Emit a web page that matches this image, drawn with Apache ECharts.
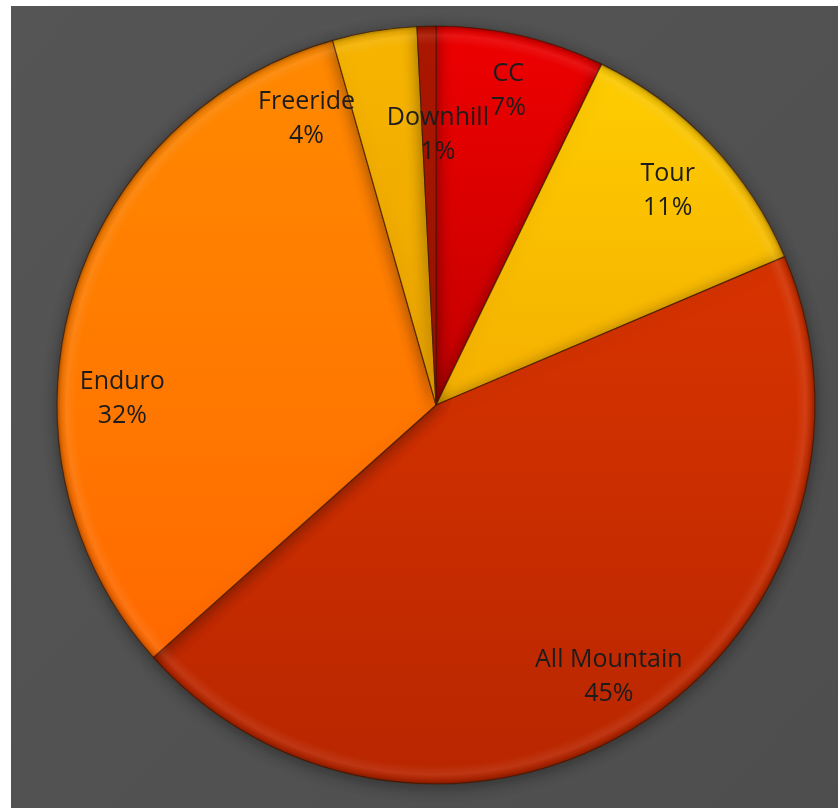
<!DOCTYPE html>
<html>
<head>
<meta charset="utf-8">
<script src="https://cdn.jsdelivr.net/npm/echarts@6/dist/echarts.min.js"></script>
<style>
html,body{margin:0;padding:0;background:#fff;}
#chart{width:838px;height:809px;}
</style>
</head>
<body>
<div id="chart"></div>
<script>
const categories = ['CC', 'Tour', 'All Mountain', 'Enduro', 'Freeride', 'Downhill'];
const shares = [7.2, 11.4, 44.8, 32.2, 3.6, 0.8];

// styling
const CX = 436, CY = 405, R = 379;
const sliceStops = [
  ['#ee0000', '#c40000', '#9a0000'],
  ['#ffd000', '#f5b000', '#e09000'],
  ['#e23800', '#d03000', '#b82600'],
  ['#ff8a00', '#ff7800', '#ff6000'],
  ['#f7b500', '#eba400', '#d89000'],
  ['#b01800', '#981200', '#800c00']
];
const labelShift = {1: [-2, 8], 3: [-4, 84], 4: [-77, 32], 5: [10, 52]};

function grad(stops) {
  return {
    type: 'linear', global: true,
    x: CX, y: CY - R, x2: CX, y2: CY + R,
    colorStops: [
      {offset: 0, color: stops[0]},
      {offset: 0.5, color: stops[1]},
      {offset: 1, color: stops[2]}
    ]
  };
}

const mainData = categories.map((c, i) => ({
  name: c, value: shares[i],
  itemStyle: {color: grad(sliceStops[i])}
}));
const labelData = categories.map((c, i) => ({name: c, value: shares[i]}));

const chart = echarts.init(document.getElementById('chart'), null, {renderer: 'canvas'});
chart.setOption({
  animation: false,
  backgroundColor: '#ffffff',
  graphic: [{
    type: 'rect', z: -10,
    shape: {x: 11, y: 6, width: 827, height: 802},
    style: {
      fill: {
        type: 'linear', x: 0, y: 0, x2: 1, y2: 1,
        colorStops: [{offset: 0, color: '#555555'}, {offset: 1, color: '#4e4e4e'}]
      }
    }
  }],
  series: [
    {
      type: 'pie', center: [CX, CY], radius: [0, R],
      startAngle: 90, clockwise: true, silent: true,
      label: {show: false}, labelLine: {show: false},
      itemStyle: {
        borderColor: 'rgba(70,25,0,0.7)', borderWidth: 1.2,
        shadowBlur: 16, shadowColor: 'rgba(0,0,0,0.4)', shadowOffsetY: 3
      },
      data: mainData
    },
    {
      type: 'pie', center: [CX, CY], radius: [R - 25, R],
      startAngle: 90, silent: true, z: 3,
      label: {show: false}, labelLine: {show: false},
      itemStyle: {
        borderWidth: 0,
        color: {
          type: 'radial', global: true, x: CX, y: CY, r: R,
          colorStops: [
            {offset: 0, color: 'rgba(255,255,255,0)'},
            {offset: 0.95, color: 'rgba(255,255,255,0)'},
            {offset: 0.975, color: 'rgba(255,255,255,0.08)'},
            {offset: 0.99, color: 'rgba(0,0,0,0.08)'},
            {offset: 1, color: 'rgba(0,0,0,0.3)'}
          ]
        }
      },
      data: [{name: 'rim', value: 1}]
    },
    {
      type: 'pie', center: [CX, CY], radius: [260, R],
      startAngle: 90, clockwise: true, silent: true, z: 5,
      itemStyle: {color: 'rgba(0,0,0,0)', borderWidth: 0},
      labelLine: {show: false},
      label: {
        show: true, position: 'inside',
        fontFamily: '"Open Sans", Lato, sans-serif',
        fontSize: 25, lineHeight: 34, color: '#1c1c1c',
        formatter: p => p.name + '\n' + Math.round(p.percent) + '%'
      },
      labelLayout: function (params) {
        const s = labelShift[params.dataIndex];
        return s ? {dx: s[0], dy: s[1]} : {};
      },
      data: labelData
    }
  ]
});
</script>
</body>
</html>
